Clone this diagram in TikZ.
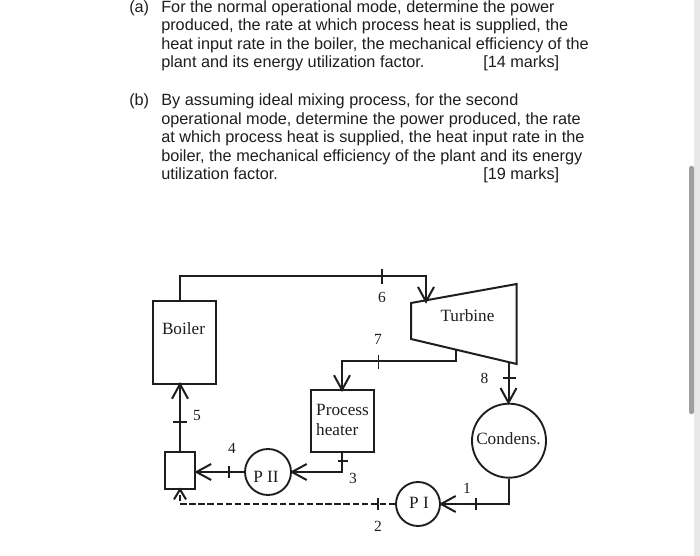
\documentclass[tikz,border=0pt]{standalone}
\usepackage{fontspec}
\setmainfont{Liberation Sans}
\newfontfamily\serifdg{Liberation Serif}
\usetikzlibrary{arrows.meta,calc}
\definecolor{ink}{HTML}{1E1E1E}
\tikzset{
  x=0.75pt,y=-0.75pt,
  para/.style={anchor=base west,inner sep=0pt,text=ink,font=\fontsize{12.2pt}{14pt}\selectfont},
  lbl/.style={inner sep=0pt,text=ink,font=\serifdg\fontsize{12.9pt}{15.4pt}\selectfont,align=left},
  num/.style={inner sep=0pt,text=ink,font=\serifdg\fontsize{11.6pt}{12pt}\selectfont},
  pipe/.style={draw=ink,line width=1.5pt},
  flow/.style={pipe,shorten >=-1.5pt,-{Straight Barb[length=11pt,width=12pt,line width=1.5pt]}},
  boxs/.style={draw=ink,line width=1.5pt,inner sep=0pt},
  circ/.style={draw=ink,line width=1.4pt,circle,inner sep=0pt},
  tick/.style={draw=ink,line width=1.2pt}
}
\begin{document}
\begin{tikzpicture}
\useasboundingbox (0,0) rectangle (700,556);
\fill[white] (0,0) rectangle (700,556);
\fill[black!9] (694,0) rectangle (700,556);
\fill[black!38,rounded corners=1.5pt] (689,166) rectangle (694,414);

% text
\node[para] (ta) at (129,12.5) {(a)};
\node[para] (l1) at (161,12.5) {For the normal operational mode, determine the power};
\node[para] (l2) at (161,30.5) {produced, the rate at which process heat is supplied, the};
\node[para] (l3) at (161,49.5) {heat input rate in the boiler, the mechanical efficiency of the};
\node[para] (l4) at (161,67.5) {plant and its energy utilization factor.};
\node[para] (m1) at (483,67.5) {[14 marks]};
\node[para] (tb) at (129,105.5) {(b)};
\node[para] (k1) at (161,105.5) {By assuming ideal mixing process, for the second};
\node[para] (k2) at (161,124.5) {operational mode, determine the power produced, the rate};
\node[para] (k3) at (161,142.5) {at which process heat is supplied, the heat input rate in the};
\node[para] (k4) at (161,161.5) {boiler, the mechanical efficiency of the plant and its energy};
\node[para] (k5) at (161,179.5) {utilization factor.};
\node[para] (m2) at (483,179.5) {[19 marks]};

% components
\node[boxs,minimum width=47.6pt,minimum height=62.2pt] (boiler) at (184.7,342.5) {};
\node[lbl] (boilert) at (183.5,329) {Boiler};
\coordinate (ta1) at (411,303);
\coordinate (ta2) at (516.7,284);
\coordinate (ta3) at (516.7,364);
\coordinate (ta4) at (411,339);
\draw[pipe,line join=miter] (ta1) -- (ta2) -- (ta3) -- (ta4) -- cycle;
\node[lbl] (turb) at (467.5,315.5) {Turbine};
\node[boxs,minimum width=47.2pt,minimum height=46.5pt] (heater) at (342.5,421) {};
\node[lbl] (heatert) at (342.5,420) {Process\\heater};
\node[boxs,minimum width=22.8pt,minimum height=27.7pt] (mixer) at (180.2,470.5) {};
\node[circ,minimum size=34.5pt] (p2) at (268,472) {};
\node[lbl] (p2t) at (266,477) {P II};
\node[circ,minimum size=33pt] (p1) at (418,504) {};
\node[lbl] (p1t) at (419,503) {P I};
\node[circ,minimum size=55.5pt] (cond) at (509,440.7) {};
\node[lbl] (condt) at (508.5,439) {Condens.};

% helper points
\coordinate (c6a) at (180,275.7);
\coordinate (c6b) at (426,275.7);
\coordinate (tin) at (426,301.7);
\coordinate (bt) at (180,301);
\coordinate (tx) at (456,350);
\coordinate (c7a) at (456,361);
\coordinate (c7b) at (342,361);
\coordinate (hin) at (342,390);
\coordinate (hout) at (342,452);
\coordinate (c3) at (342,472);
\coordinate (c8a) at (508.5,362);
\coordinate (c1a) at (509,504);
\coordinate (c2a) at (180,504);
\coordinate (mb) at (180,489.5);
\coordinate (mt) at (180,452);
\coordinate (bb) at (180,384);

% connectors
\draw[flow] (bt) -- (c6a) -- (c6b) -- (tin);
\draw[flow] (tx) -- (c7a) -- (c7b) -- (hin);
\draw[flow] (hout) -- (c3) -- (p2.east);
\draw[flow] (p2.west) -- (mixer.east |- p2.west);
\draw[flow] (mt) -- (bb);
\draw[flow] (c8a) -- (cond.north -| c8a);
\draw[flow] (cond.south) -- (c1a) -- (p1.east);
\draw[flow,dash pattern=on 4.7pt off 2.1pt,-{Straight Barb[length=7.5pt,width=9pt,line width=1.5pt]}] (p1.west) -- (c2a) -- (mb);

% ticks
\draw[tick] (382,269) -- (382,284);
\draw[tick] (378.5,355) -- (378.5,369);
\draw[tick] (503,378) -- (516,378);
\draw[tick] (338,461) -- (348,461);
\draw[tick] (173,422) -- (187,422);
\draw[tick] (229,466) -- (229,478);
\draw[tick] (378,498) -- (378,510);
\draw[tick] (476,498) -- (476,510);

% numbers
\node[num] (n6) at (382,297) {6};
\node[num] (n7) at (378,339) {7};
\node[num] (n8) at (484.5,378) {8};
\node[num] (n5) at (197,416) {5};
\node[num] (n4) at (232,448) {4};
\node[num] (n3) at (353,478) {3};
\node[num] (n2) at (378,526) {2};
\node[num] (n1) at (467,488) {1};
\end{tikzpicture}
\end{document}
